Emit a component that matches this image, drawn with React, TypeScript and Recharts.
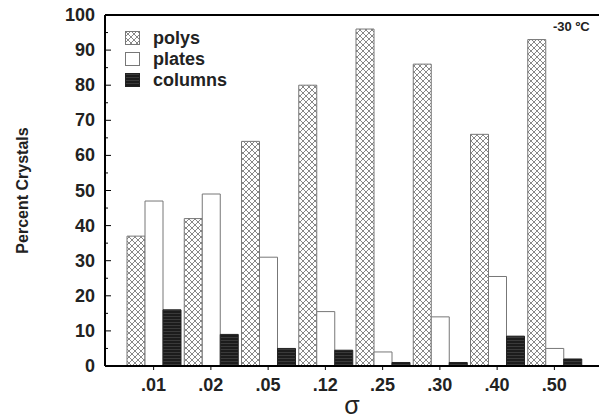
import React from "react";
import { BarChart, Bar, XAxis, YAxis, ReferenceLine } from "recharts";

if (typeof document !== "undefined") document.body.style.margin = "0";

const sigmas = [".01", ".02", ".05", ".12", ".25", ".30", ".40", ".50"];
const polys = [37, 42, 64, 80, 96, 86, 66, 93];
const plates = [47, 49, 31, 15.5, 4, 14, 25.5, 5];
const columns = [16, 9, 5, 4.5, 1, 1, 8.5, 2];
const yTicks = [0, 5, 10, 15, 20, 25, 30, 35, 40, 45, 50, 55, 60, 65, 70, 75, 80, 85, 90, 95, 100];

const data = sigmas.map((s, i) => ({
  sigma: s,
  polys: polys[i],
  plates: plates[i],
  columns: columns[i],
}));

const FONT = "'Liberation Sans', Arial, Helvetica, sans-serif";

const series = [
  { key: "polys", fill: "url(#hatch)", stroke: "#777" },
  { key: "plates", fill: "#fff", stroke: "#777" },
  { key: "columns", fill: "url(#dark)", stroke: "#222" },
];

// ticks point into the plot: long at every 10, short at every 5
const YTick = ({ x, y, payload }: any) => {
  const v = payload.value;
  const major = v % 10 === 0;
  const ax = x + 10;
  return (
    <g>
      <line x1={ax} x2={ax + (major ? 6 : 3)} y1={y} y2={y} stroke="#000" strokeWidth={1} />
      {major && (
        <text x={x} y={y} dy={6} textAnchor="end" fontSize={18} fill="#222" fontFamily={FONT} fontWeight="bold">
          {v}
        </text>
      )}
    </g>
  );
};

export default function App() {
  return (
    <div style={{ position: "relative", width: 599, height: 419, background: "#fff" }}>
      <BarChart
        width={599}
        height={419}
        data={data}
        margin={{ top: 15, right: 0, bottom: 0, left: 0 }}
        barCategoryGap={2}
        barGap={0}
      >
        <defs>
          <pattern id="hatch" width={6} height={6} patternUnits="userSpaceOnUse">
            <rect width={6} height={6} fill="#fff" />
            <path d="M0,0 L6,6 M6,0 L0,6" stroke="#555" strokeWidth={0.7} />
          </pattern>
          <pattern id="dark" width={4} height={3} patternUnits="userSpaceOnUse">
            <rect width={4} height={3} fill="#1c1c1c" />
            <rect y={1} width={4} height={1} fill="#3a3a3a" />
          </pattern>
        </defs>
        <XAxis
          dataKey="sigma"
          height={53}
          padding={{ left: 20, right: 16 }}
          axisLine={{ stroke: "#000", strokeWidth: 2 }}
          tickLine={{ stroke: "#000" }}
          tickSize={4}
          tickMargin={8}
          tick={{ fontSize: 18, fill: "#222", fontFamily: FONT, fontWeight: "bold" }}
          label={{ value: "σ", position: "insideBottom", offset: 5, fontSize: 25, fill: "#222", fontFamily: FONT }}
        />
        <YAxis
          width={105}
          domain={[0, 100]}
          ticks={yTicks}
          interval={0}
          tickSize={6}
          tickMargin={4}
          tickLine={false}
          tick={<YTick />}
          axisLine={{ stroke: "#000", strokeWidth: 2 }}
          label={{
            value: "Percent Crystals",
            angle: -90,
            position: "insideLeft",
            offset: 22,
            fontSize: 16,
            fontWeight: "bold",
            fill: "#222",
            fontFamily: FONT,
            style: { textAnchor: "middle" },
          }}
        />
        <ReferenceLine y={100} stroke="#000" strokeWidth={2} />
        {series.map((s) => (
          <Bar
            key={s.key}
            dataKey={s.key}
            fill={s.fill}
            stroke={s.stroke}
            strokeWidth={1}
            isAnimationActive={false}
          />
        ))}
      </BarChart>
      <div
        style={{
          position: "absolute",
          left: 125,
          top: 28,
          fontFamily: FONT,
          fontSize: 18,
          fontWeight: "bold",
          color: "#222",
          lineHeight: "21px",
        }}
      >
        {series.map((s) => (
          <div key={s.key} style={{ display: "flex", alignItems: "center" }}>
            <svg width={16} height={15} style={{ marginRight: 12 }}>
              <rect x={0.5} y={0.5} width={14} height={13} fill={s.fill} stroke={s.stroke} />
            </svg>
            <span>{s.key}</span>
          </div>
        ))}
      </div>
      <div
        style={{
          position: "absolute",
          left: 553,
          top: 19,
          fontFamily: FONT,
          fontSize: 13,
          fontWeight: "bold",
          color: "#222",
        }}
      >
        -30 ºC
      </div>
    </div>
  );
}
